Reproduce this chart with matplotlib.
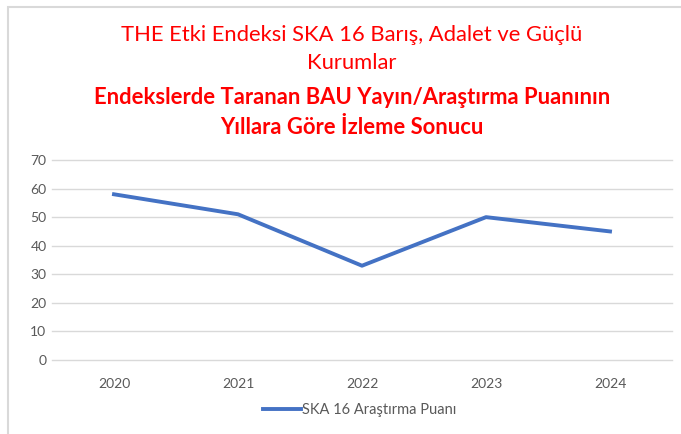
import matplotlib
matplotlib.use("Agg")
import matplotlib.pyplot as plt
from matplotlib.patches import Rectangle

years = ["2020", "2021", "2022", "2023", "2024"]
scores = [58, 51, 33, 50, 45]
series_label = "SKA 16 Araştırma Puanı"
title_lines = [
    ("THE Etki Endeksi SKA 16 Barış, Adalet ve Güçlü", "normal"),
    ("Kurumlar", "normal"),
    ("Endekslerde Taranan BAU Yayın/Araştırma Puanının", "bold"),
    ("Yıllara Göre İzleme Sonucu", "bold"),
]
yticks = [0, 10, 20, 30, 40, 50, 60, 70]

plt.rcParams["font.family"] = ["Lato", "DejaVu Sans"]

W, H = 681, 434
fig = plt.figure(figsize=(W / 100, H / 100), dpi=100)
fig.patch.set_facecolor("white")

# chart frame, cropped on the right and bottom
fig.patches.append(Rectangle((8 / W, -0.1), 1.2, (H - 7) / H + 0.1,
                             transform=fig.transFigure, fill=False,
                             edgecolor="#D9D9D9", lw=1.5))

for (txt, wt), y in zip(title_lines, [35, 63, 97, 127]):
    fig.text(352 / W, 1 - y / H, txt, ha="center", va="center",
             color="#FF0000", fontsize=15.8, fontweight=wt)

ax = fig.add_axes([52 / W, 74 / H, 620 / W, 200 / H])
x = list(range(len(years)))
ax.plot(x, scores, color="#4472C4", lw=2.8, solid_joinstyle="round",
        label=series_label)
ax.set_xlim(-0.5, len(years) - 0.5)
ax.set_ylim(0, 70)
ax.set_yticks(yticks)
ax.set_xticks(x)
ax.set_xticklabels(years)
ax.grid(axis="y", color="#D9D9D9", lw=1)
for gl in ax.get_ygridlines():
    gl.set_clip_on(False)
ax.set_axisbelow(True)
for s in ax.spines.values():
    s.set_visible(False)
ax.tick_params(length=0, labelsize=10, colors="#595959")
ax.tick_params(axis="x", pad=13)
ax.tick_params(axis="y", pad=4)

leg = fig.legend(loc="center", bbox_to_anchor=(360 / W, 1 - 410 / H),
                 frameon=False, fontsize=10.5, handlelength=2.6,
                 handletextpad=0.1)
for t in leg.get_texts():
    t.set_color("#595959")

fig.savefig("out.png", dpi=100)
